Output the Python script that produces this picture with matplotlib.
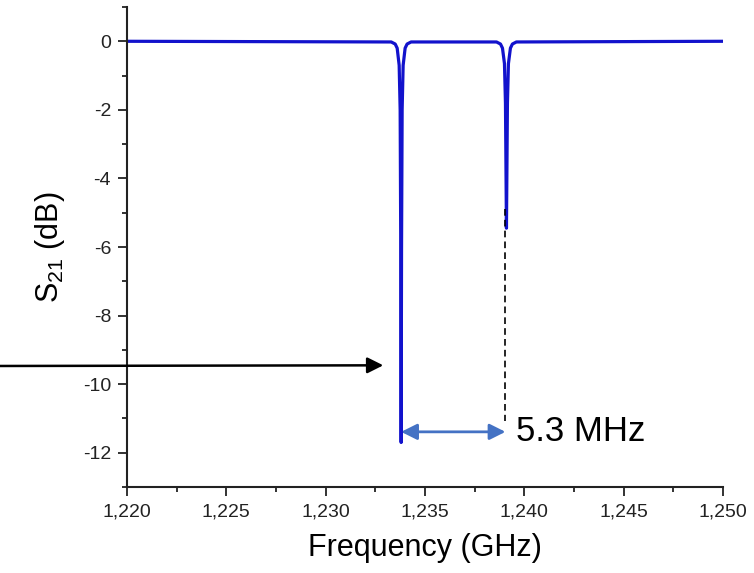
import matplotlib
matplotlib.use("Agg")
import matplotlib.pyplot as plt
from matplotlib.ticker import MultipleLocator, FuncFormatter

# transmission curve (two sharp resonances)
freq_mhz = [1220.0, 1233.3, 1233.5, 1233.6, 1233.7, 1233.75, 1233.78, 1233.8,
            1233.82, 1233.85, 1233.9, 1234.0, 1234.1, 1234.3,
            1238.6, 1238.8, 1238.9, 1239.0, 1239.05, 1239.08, 1239.1,
            1239.12, 1239.15, 1239.2, 1239.3, 1239.4, 1239.6, 1250.0]
s21_db = [0.0, -0.02, -0.08, -0.2, -0.7, -2.0, -6.0, -11.7,
          -6.0, -2.0, -0.7, -0.2, -0.08, -0.02,
          -0.02, -0.08, -0.2, -0.65, -1.8, -4.0, -5.45,
          -4.0, -1.8, -0.65, -0.2, -0.08, -0.02, 0.0]

dip_low = 1233.8
dip_high = 1239.05
pointer_y = -9.45
span_y = -11.39
span_label = "5.3 MHz"

plt.rcParams.update({
    "font.family": ["Liberation Sans", "DejaVu Sans"],
    "mathtext.fontset": "custom",
    "mathtext.rm": "Liberation Sans",
    "mathtext.it": "Liberation Sans:italic",
})

fig = plt.figure(figsize=(7.54, 5.73), dpi=100)
ax = fig.add_axes([0.1684, 0.150, 0.7905, 0.8378])

ax.plot(freq_mhz, s21_db, color="#1212CC", lw=2.3, solid_joinstyle="round")

ax.set_xlim(1220, 1250)
ax.set_ylim(-13, 1)
ax.xaxis.set_major_locator(MultipleLocator(5))
ax.xaxis.set_minor_locator(MultipleLocator(2.5))
ax.yaxis.set_major_locator(MultipleLocator(2))
ax.yaxis.set_minor_locator(MultipleLocator(1))
ax.xaxis.set_major_formatter(FuncFormatter(lambda v, p: f"{v:,.0f}"))
ax.yaxis.set_major_formatter(FuncFormatter(lambda v, p: f"{v:.0f}"))

for s in ["top", "right"]:
    ax.spines[s].set_visible(False)
for s in ["left", "bottom"]:
    ax.spines[s].set_linewidth(1.5)
    ax.spines[s].set_color("#222222")
ax.tick_params(which="major", direction="out", length=6.5, width=1.3,
               labelsize=14, colors="#222222", pad=5)
ax.tick_params(which="minor", direction="out", length=3.5, width=1.3,
               colors="#222222")

ax.set_xlabel("Frequency (GHz)", fontsize=22, labelpad=9)
ax.set_ylabel(r"S$_{\mathrm{21}}$ (dB)", fontsize=22, labelpad=11)

# black pointer coming in from the left edge of the figure
ax.annotate("", xy=(1232.9, pointer_y), xycoords="data",
            xytext=(0.0, 0.3613), textcoords="figure fraction",
            arrowprops=dict(arrowstyle="-|>", color="black", lw=1.8,
                            mutation_scale=24, shrinkA=0, shrinkB=0),
            annotation_clip=False)

# dashed marker under the second dip
ax.plot([dip_high, dip_high], [-4.9, -11.07], color="black", lw=1.2,
        dashes=(4, 2.5))

# double arrow showing the spacing
ax.annotate("", xy=(dip_low, span_y), xytext=(dip_high, span_y),
            arrowprops=dict(arrowstyle="<|-|>", color="#4472C4", lw=2.0,
                            mutation_scale=24, shrinkA=0, shrinkB=0))
ax.text(1239.6, span_y, span_label, fontsize=25, ha="left", va="center",
        color="black")

fig.savefig("out.png", dpi=100)
